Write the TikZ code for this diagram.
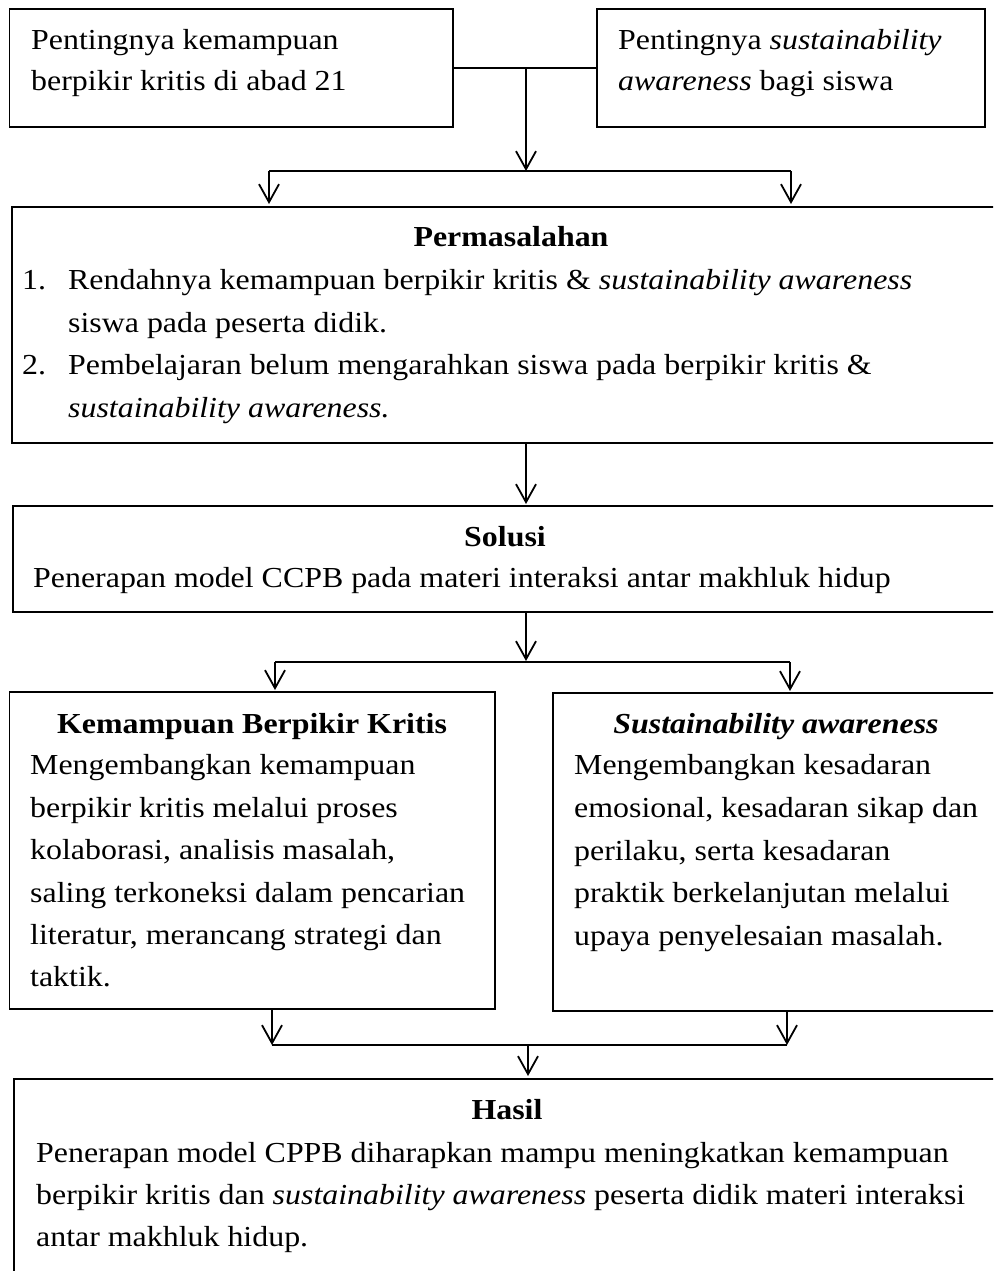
\documentclass[tikz,border=0pt]{standalone}
\usepackage{fontspec}
\setmainfont{Liberation Serif}[FakeStretch=1.1]
\usetikzlibrary{arrows.meta}
\begin{document}
\begin{tikzpicture}[x=1pt,y=-1pt,
  box/.style={draw, line width=1.3pt, anchor=north west, inner sep=0pt, outer sep=0pt},
  conn/.style={line width=1.8pt},
  arr/.style={line width=1.8pt, -{Straight Barb[length=18pt,width=20pt]}},
  txt/.style={anchor=base west, inner sep=0pt, font=\fontsize{29}{42}\selectfont},
  ttl/.style={anchor=base, inner sep=0pt, font=\fontsize{29}{42}\selectfont\bfseries}]
\useasboundingbox (0,0) rectangle (993,1271);
\clip (0,0) rectangle (993,1271);
\fill[white] (0,0) rectangle (993,1271);
% boxes
\node[box, minimum width=443.5pt, minimum height=118pt] (b1) at (9.5,9) {};
\node[box, minimum width=388pt, minimum height=118pt] (b2) at (597,9) {};
\node[box, minimum width=1000pt, minimum height=236pt] (perm) at (12,207) {};
\node[box, minimum width=1000pt, minimum height=106pt] (sol) at (13,506) {};
\node[box, minimum width=485.5pt, minimum height=317pt] (kbk) at (9.5,692) {};
\node[box, minimum width=460pt, minimum height=318pt] (sa) at (553,693) {};
\node[box, minimum width=1000pt, minimum height=250pt] (hasil) at (14,1079) {};
% texts
\node[txt] (t1a) at (31,50) {Pentingnya kemampuan};
\node[txt] (t1b) at (31,91) {berpikir kritis di abad 21};
\node[txt] (t2a) at (618,50) {Pentingnya \textit{sustainability}};
\node[txt] (t2b) at (618,91) {\textit{awareness} bagi siswa};
\node[ttl] (pt) at (511,246) {Permasalahan};
\node[txt] (p1n) at (22,289) {1.};
\node[txt] (p1a) at (68,289) {Rendahnya kemampuan berpikir kritis \& \textit{sustainability awareness}};
\node[txt] (p1b) at (68,332) {siswa pada peserta didik.};
\node[txt] (p2n) at (22,374) {2.};
\node[txt] (p2a) at (68,374) {Pembelajaran belum mengarahkan siswa pada berpikir kritis \&};
\node[txt] (p2b) at (68,417) {\textit{sustainability awareness.}};
\node[ttl] (st) at (505,546) {Solusi};
\node[txt] (sb) at (33,587) {Penerapan model CCPB pada materi interaksi antar makhluk hidup};
\node[ttl] (kt) at (252,733) {Kemampuan Berpikir Kritis};
\node[txt] (k1) at (30,774) {Mengembangkan kemampuan};
\node[txt] (k2) at (30,817) {berpikir kritis melalui proses};
\node[txt] (k3) at (30,859) {kolaborasi, analisis masalah,};
\node[txt] (k4) at (30,902) {saling terkoneksi dalam pencarian};
\node[txt] (k5) at (30,944) {literatur, merancang strategi dan};
\node[txt] (k6) at (30,986) {taktik.};
\node[ttl] (at) at (776,733) {\textit{Sustainability awareness}};
\node[txt] (a1) at (574,774) {Mengembangkan kesadaran};
\node[txt] (a2) at (574,817) {emosional, kesadaran sikap dan};
\node[txt] (a3) at (574,860) {perilaku, serta kesadaran};
\node[txt] (a4) at (574,902) {praktik berkelanjutan melalui};
\node[txt] (a5) at (574,945) {upaya penyelesaian masalah.};
\node[ttl] (ht) at (507,1119) {Hasil};
\node[txt] (h1) at (36,1162) {Penerapan model CPPB diharapkan mampu meningkatkan kemampuan};
\node[txt] (h2) at (36,1204) {berpikir kritis dan \textit{sustainability awareness} peserta didik materi interaksi};
\node[txt] (h3) at (36,1246) {antar makhluk hidup.};
% connectors
\draw[conn] (b1.east) -- (b2.west);
\coordinate (j1) at (526,68);
\coordinate (j2) at (526,171);
\coordinate (j2l) at (269,171);
\coordinate (j2r) at (791,171);
\draw[arr] (j1) -- (j2);
\draw[conn] (j2l) -- (j2r);
\draw[arr] (j2l) -- ([yshift=3pt]j2l |- perm.north);
\draw[arr] (j2r) -- ([yshift=3pt]j2r |- perm.north);
\draw[arr] (j1 |- perm.south) -- ([yshift=2pt]j1 |- sol.north);
\coordinate (k0) at (526,661);
\coordinate (k0l) at (275,662);
\coordinate (k0r) at (790,662);
\draw[arr] (j1 |- sol.south) -- (k0);
\draw[conn] (k0l) -- (k0r);
\draw[arr] (k0l) -- ([yshift=2pt]k0l |- kbk.north);
\draw[arr] (k0r) -- ([yshift=2pt]k0r |- sa.north);
\coordinate (m1l) at (272,1045);
\coordinate (m1r) at (787,1045);
\coordinate (m1) at (528,1045);
\draw[arr] (m1l |- kbk.south) -- (m1l);
\draw[arr] (m1r |- sa.south) -- (m1r);
\draw[conn] (m1l) -- (m1r);
\draw[arr] (m1) -- ([yshift=3pt]m1 |- hasil.north);
\end{tikzpicture}
\end{document}
